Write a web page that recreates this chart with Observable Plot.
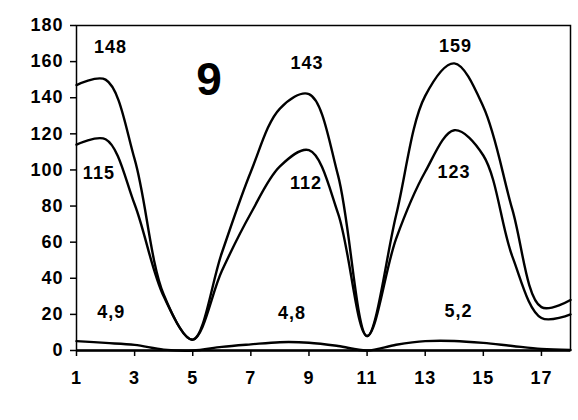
<!DOCTYPE html>
<html><head>
<meta charset="utf-8">
<script src="https://cdn.jsdelivr.net/npm/d3@7"></script>
<script src="https://cdn.jsdelivr.net/npm/@observablehq/plot@0.6"></script>
<style>
body{margin:0;background:#fff}
#chart svg{font-family:"Liberation Sans",Arial,sans-serif}
</style>
</head><body><div id="chart"></div>
<script>
const xs = [1,2,3,4,5,6,7,8,9,10,11,12,13,14,15,16,17,18];
const seriesA = [147,150,106,31,6,54,99,134,142,97,8,75,141,159,135,78,24,28];
const seriesB = [114,117,81,30,6,44,76,102,111,76,8,62,99,122,108,52,18,20];
const seriesC = [5.2,4.2,3.1,0.5,0,2,3.4,4.6,4.3,2.5,0,3.2,5.2,5.3,4.2,2.5,0.9,0.3];
const yTicks = [0,20,40,60,80,100,120,140,160,180];
const xTicks = [1,3,5,7,9,11,13,15,17];
const labelText = ["148","143","159","115","112","123","4,9","4,8","5,2"];
const labelX = [2.17,8.93,14.04,1.77,8.9,13.99,2.2,8.42,14.15];
const labelY = [167.8,158.9,168.3,98.3,92.5,98.8,21,20.8,21.9];
const panelLabel = "9";
const panelX = 5.58, panelY = 149.5;

const rows = [];
[["A",seriesA],["B",seriesB],["C",seriesC]].forEach(([k,arr]) =>
  arr.forEach((v,i) => rows.push({s:k, x:xs[i], y:v})));
const labels = labelText.map((t,i) => ({t, x:labelX[i], y:labelY[i]}));

const chart = Plot.plot({
  width: 578, height: 420,
  marginLeft: 76, marginRight: 8, marginTop: 25, marginBottom: 70,
  style: {fontSize: "18px", fontWeight: "bold", background: "#fff", color: "#000", letterSpacing: "1px"},
  x: {domain: [1, 18]},
  y: {domain: [0, 180]},
  marks: [
    Plot.frame({stroke: "#000", strokeWidth: 1.5}),
    Plot.ruleY([0], {stroke: "#000", strokeWidth: 2.5}),
    Plot.axisY({ticks: yTicks, tickSize: 6, tickPadding: 7, label: null, strokeWidth: 1.5}),
    Plot.axisX({ticks: xTicks, tickSize: 6, tickPadding: 15, label: null, strokeWidth: 1.5}),
    Plot.line(rows, {x: "x", y: "y", z: "s", stroke: "#000", strokeWidth: 2.4, curve: "catmull-rom"}),
    Plot.text(labels, {x: "x", y: "y", text: "t", fontSize: 18, lineAnchor: "middle", fill: "#000"}),
    Plot.text([panelLabel], {x: panelX, y: panelY, fontSize: 46, fontWeight: "bold", lineAnchor: "middle", fill: "#000"})
  ]
});
document.getElementById("chart").appendChild(chart);
</script>
</body></html>
